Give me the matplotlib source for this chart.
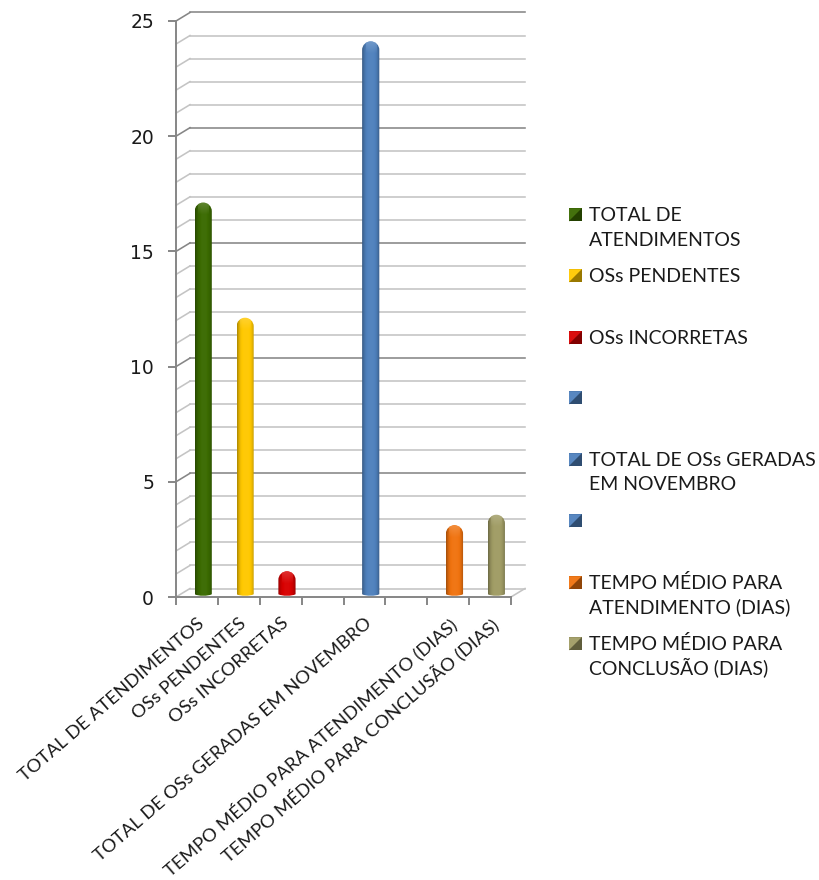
import numpy as np
import matplotlib
matplotlib.use("Agg")
import matplotlib.pyplot as plt
from matplotlib.path import Path
from matplotlib.patches import PathPatch, Rectangle, Polygon
from matplotlib.colors import to_rgb

categories = ["TOTAL DE ATENDIMENTOS", "OSs PENDENTES", "OSs INCORRETAS", "",
              "TOTAL DE OSs GERADAS EM NOVEMBRO", "",
              "TEMPO MÉDIO PARA ATENDIMENTO (DIAS)", "TEMPO MÉDIO PARA CONCLUSÃO (DIAS)"]
values = [17, 12, 1, np.nan, 24, np.nan, 3, 3.45]
bar_colors = ["#3A6A00", "#FFC800", "#D80000", "#4F81BD", "#4F81BD", "#4F81BD", "#F0730F", "#A09C64"]
legend_labels = ["TOTAL DE\nATENDIMENTOS", "OSs PENDENTES", "OSs INCORRETAS", "",
                 "TOTAL DE OSs GERADAS\nEM NOVEMBRO", "",
                 "TEMPO MÉDIO PARA\nATENDIMENTO (DIAS)", "TEMPO MÉDIO PARA\nCONCLUSÃO (DIAS)"]
legend_y = [215, 276, 338, 398, 460, 521, 583, 644]

W, H = 819, 880
GRID = "#C4C4C4"
MAJOR = "#868686"
DX, DY = 14 / 41.9, 8.5 / 23.04  # depth of the fake 3d box, in data units


def shade(color, f):
    c = np.array(to_rgb(color))
    return np.clip(c * f, 0, 1) if f <= 1 else c + (1 - c) * (f - 1)


def cylinder(ax, x, top, color, width=0.41, base=0.12):
    # rounded column with a horizontal gradient, clipped to its outline
    left, right = x - width / 2, x + width / 2
    rx = width / 2
    ry = rx * (41.9 / 23.04)
    k = 0.55
    y1 = top + base
    verts = [(left, base), (left, y1 - ry),
             (left, y1 - ry + k * ry), (x - k * rx, y1), (x, y1),
             (x + k * rx, y1), (right, y1 - ry + k * ry), (right, y1 - ry),
             (right, base),
             (x + k * rx, base - 0.09), (x - k * rx, base - 0.09), (left, base),
             (left, base)]
    codes = [Path.MOVETO, Path.LINETO,
             Path.CURVE4, Path.CURVE4, Path.CURVE4,
             Path.CURVE4, Path.CURVE4, Path.CURVE4,
             Path.LINETO,
             Path.CURVE4, Path.CURVE4, Path.CURVE4,
             Path.CLOSEPOLY]
    patch = PathPatch(Path(verts, codes), fc="none", ec="none", zorder=3)
    ax.add_patch(patch)
    t = np.linspace(-1, 1, 48)
    f = 1.03 - 0.36 * np.abs(t) ** 3
    grad = np.array([[shade(color, v) for v in f]])
    im = ax.imshow(grad, extent=(left, right, -0.1, y1), aspect="auto", zorder=3,
                   interpolation="bilinear")
    im.set_clip_path(patch)
    # lighter cap at the top of the column
    cap = ax.imshow(np.array([[(*shade(color, 1.3), a) for a in np.linspace(0.55, 0, 12)]]).transpose(1, 0, 2),
                    extent=(x - width * 0.3, x + width * 0.3, y1 - 0.55, y1 - 0.05), aspect="auto",
                    zorder=3.5, interpolation="bilinear")
    cap.set_clip_path(patch)


fig = plt.figure(figsize=(W / 100, H / 100), dpi=100)
ax = fig.add_axes([176 / W, 1 - 597 / H, (511 - 176) / W, (597 - 21) / H])
ax.patch.set_alpha(0)

# back wall and side wall gridlines
for v in range(0, 26):
    major = v % 5 == 0
    col = MAJOR if major else GRID
    lw = 1.15
    ax.plot([DX, 8 + DX], [v + DY, v + DY], color=col if v else GRID, lw=lw, zorder=1, clip_on=False)
    ax.plot([0, DX], [v, v + DY], color=col if v else GRID, lw=lw, zorder=1, clip_on=False)
ax.plot([8, 8 + DX], [0, DY], color=GRID, lw=1.15, zorder=1, clip_on=False)

for i, (val, col) in enumerate(zip(values, bar_colors)):
    if not np.isnan(val):
        cylinder(ax, i + 0.65, val, col)

ax.set_xlim(0, 8)
ax.set_ylim(0, 25)
for s in ["top", "right"]:
    ax.spines[s].set_visible(False)
for s in ["left", "bottom"]:
    ax.spines[s].set_color(MAJOR)
    ax.spines[s].set_linewidth(1.4)

ax.set_yticks(range(0, 26, 5))
ax.tick_params(axis="y", length=5.8, width=1.4, color=MAJOR, labelsize=13.5, labelcolor="#1A1A1A", pad=10)
for lab in ax.get_yticklabels():
    lab.set_family("DejaVu Sans")

ax.set_xticks(range(9))
ax.set_xticklabels([])
ax.tick_params(axis="x", which="major", length=6, width=1.4, color=MAJOR)
ax.set_xticks(np.arange(8) + 0.5, minor=True)
ax.set_xticklabels(categories, minor=True, rotation=41, ha="right", rotation_mode="anchor",
                   fontsize=13.3, family="Lato", color="#1A1A1A")
ax.tick_params(axis="x", which="minor", length=0, pad=13)

# legend is drawn by hand, the swatches are small bevelled squares
ov = fig.add_axes([0, 0, 1, 1])
ov.set_xlim(0, W)
ov.set_ylim(H, 0)
ov.axis("off")
ov.patch.set_alpha(0)
for y, col, label in zip(legend_y, bar_colors, legend_labels):
    x0, x1, y0, y1 = 569, 582, y - 6.5, y + 6.5
    ov.add_patch(Rectangle((x0, y0), 13, 13, fc=shade(col, 0.9), ec="none"))
    ov.add_patch(Polygon([(x0, y0), (x1, y0), (x0, y1)], fc=shade(col, 1.05), ec="none"))
    ov.add_patch(Polygon([(x0, y1), (x1, y1), (x1, y0)], fc=shade(col, 0.6), ec="none"))
    for n, line in enumerate(label.split("\n")):
        ov.text(589, y + 6 + n * 24.5, line, va="baseline", ha="left", fontsize=14, family="Lato",
                color="#1A1A1A")

fig.savefig("out.png", dpi=100)
